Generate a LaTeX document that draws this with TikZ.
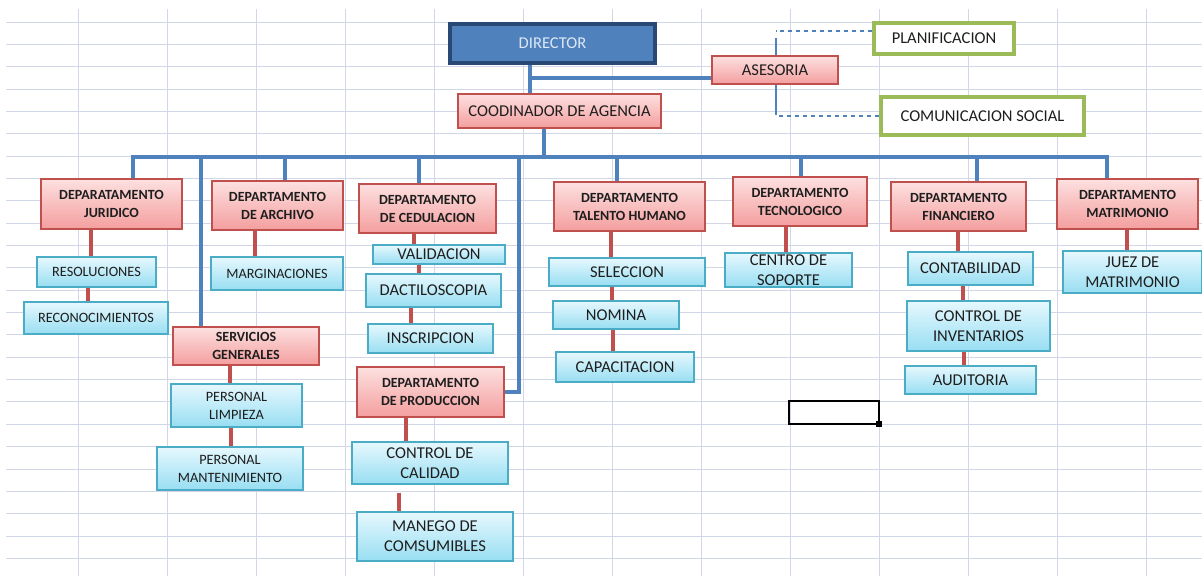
\documentclass[tikz,border=0pt]{standalone}
\usepackage{fontspec}
\setmainfont{Carlito}
\definecolor{gridgray}{RGB}{210,215,231}
\definecolor{dirfill}{RGB}{79,129,189}
\definecolor{diredge}{RGB}{40,72,118}
\definecolor{dirtext}{RGB}{222,232,245}
\definecolor{depttop}{RGB}{253,224,224}
\definecolor{deptbot}{RGB}{244,158,158}
\definecolor{deptedge}{RGB}{192,80,77}
\definecolor{unittop}{RGB}{230,248,254}
\definecolor{unitbot}{RGB}{152,222,242}
\definecolor{unitedge}{RGB}{75,172,198}
\definecolor{staffedge}{RGB}{155,187,89}
\definecolor{linkblue}{RGB}{79,129,189}
\definecolor{linkred}{RGB}{192,80,77}
\definecolor{inktext}{RGB}{30,30,30}
\pgfdeclarelayer{grid}
\pgfdeclarelayer{links}
\pgfsetlayers{grid,links,main}

\begin{document}
\begin{tikzpicture}[x=0.75pt, y=-0.75pt,
  span/.style args={#1/#2/#3/#4}{at={({(#1+#3)/2},{(#2+#4)/2})}, minimum width={(#3-#1)*0.75pt}, minimum height={(#4-#2)*0.75pt}},
  dirbox/.style={draw=diredge, line width=2.4pt, fill=dirfill, inner sep=0pt, text=dirtext, font=\fontsize{12.4}{15}\selectfont},
  deptbox/.style={draw=deptedge, line width=1.1pt, top color=depttop, bottom color=deptbot, inner sep=0pt, align=center, text=inktext, font=\fontsize{10.5}{13.5}\selectfont\bfseries},
  unitbox/.style={draw=unitedge, line width=1.1pt, top color=unittop, bottom color=unitbot, inner sep=0pt, align=center, text=inktext, font=\fontsize{12.4}{15}\selectfont},
  smallbox/.style={unitbox, font=\fontsize{10.7}{13.5}\selectfont},
  staffbox/.style={draw=staffedge, line width=2.6pt, fill=white, inner sep=0pt, text=inktext, font=\fontsize{12.4}{15}\selectfont},
  bluelink/.style={draw=linkblue, line width=3pt},
  redlink/.style={draw=linkred, line width=3pt},
  thinlink/.style={draw=linkblue, line width=0.8pt},
  gridline/.style={draw=gridgray, line width=0.7pt}]

  \useasboundingbox (0,0) rectangle (1202,576);

  % sheet grid
  \begin{pgfonlayer}{grid}
    \fill[white] (0,0) rectangle (1202,576);
    \foreach \k in {0,...,24}
      \draw[gridline] (6,{22+22.35*\k}) -- (1202,{22+22.35*\k});
    \foreach \k in {0,...,12}
      \draw[gridline] ({78+89*\k},9) -- ({78+89*\k},576);
  \end{pgfonlayer}

  % top
  \node[dirbox, span=450/24/655/63] (dir) {DIRECTOR};
  \node[deptbox, font=\fontsize{12.4}{15}\selectfont, span=712/56/838/84] (ase) {ASESORIA};
  \node[deptbox, font=\fontsize{12.4}{15}\selectfont, span=458/94/661/128] (coo) {COODINADOR DE AGENCIA};
  \node[staffbox, span=874/23/1014/54] (plan) {PLANIFICACION};
  \node[staffbox, span=881/97/1084/135] (com) {COMUNICACION SOCIAL};

  % departments
  \node[deptbox, span=41/179/182/229] (jur) {DEPARATAMENTO\\JURIDICO};
  \node[deptbox, span=212/181/343/230] (arc) {DEPARTAMENTO\\DE ARCHIVO};
  \node[deptbox, span=359/184/496/233] (ced) {DEPARTAMENTO\\DE CEDULACION};
  \node[deptbox, span=554/182/705/231] (tal) {DEPARTAMENTO\\TALENTO HUMANO};
  \node[deptbox, span=733/177/867/226] (tec) {DEPARTAMENTO\\TECNOLOGICO};
  \node[deptbox, span=891/182/1026/231] (fin) {DEPARTAMENTO\\FINANCIERO};
  \node[deptbox, span=1057/179/1198/229] (mat) {DEPARTAMENTO\\MATRIMONIO};
  \node[deptbox, span=173/327/319/365] (ser) {SERVICIOS\\GENERALES};
  \node[deptbox, span=357/367/504/417] (pro) {DEPARTAMENTO\\DE PRODUCCION};

  % units
  \node[smallbox, span=37/257/156/287] (res) {RESOLUCIONES};
  \node[smallbox, span=24/302/168/334] (rec) {RECONOCIMIENTOS};
  \node[smallbox, span=211/257/343/290] (mar) {MARGINACIONES};
  \node[unitbox, span=373/245/505/264] (val) {VALIDACION};
  \node[unitbox, span=366/274/501/307] (dac) {DACTILOSCOPIA};
  \node[unitbox, span=368/324/493/353] (ins) {INSCRIPCION};
  \node[unitbox, span=549/258/705/286] (sel) {SELECCION};
  \node[unitbox, span=553/301/679/329] (nom) {NOMINA};
  \node[unitbox, span=556/352/694/382] (cap) {CAPACITACION};
  \node[unitbox, span=725/253/852/287] (cen) {CENTRO DE\\SOPORTE};
  \node[unitbox, span=908/252/1033/285] (cont) {CONTABILIDAD};
  \node[unitbox, span=907/301/1050/351] (inv) {CONTROL DE\\INVENTARIOS};
  \node[unitbox, span=905/366/1036/394] (aud) {AUDITORIA};
  \node[unitbox, span=1063/251/1202/293] (juez) {JUEZ DE\\MATRIMONIO};
  \node[smallbox, span=171/384/302/427] (lim) {PERSONAL\\LIMPIEZA};
  \node[smallbox, span=157/447/303/490] (man) {PERSONAL\\MANTENIMIENTO};
  \node[unitbox, span=352/442/508/484] (cal) {CONTROL DE\\CALIDAD};
  \node[unitbox, span=357/512/513/561] (cons) {MANEGO DE\\COMSUMIBLES};

  % selected cell
  \draw[black, line width=1.6pt] (789,401) rectangle (879,424);
  \fill[black] (876,421) rectangle (882,427);

  \begin{pgfonlayer}{links}
    \draw[bluelink] (dir.south -| 530,0) -- (coo.north -| 530,0);
    \coordinate (ja) at (530,78);
    \draw[bluelink] (ja) -- (ase.west |- ja);
    \coordinate (bt) at (776,38);
    \coordinate (bb) at (776,115);
    \draw[thinlink, dashed] (plan.west |- 0,31) -- (bt |- 0,31);
    \draw[thinlink] (bt) -- (bb);
    \draw[thinlink, dashed] (com.west) -- (com.west -| bb);

    % bus to the departments
    \coordinate (busL) at (133,157);
    \coordinate (busR) at (1107,157);
    \draw[bluelink] (coo.south -| 544,0) -- (busL -| 544,0);
    \draw[bluelink, line cap=rect] (busL) -- (busR);
    \foreach \n/\x in {jur/133, ser/201, arc/285, ced/419, tal/617, tec/801, fin/977, mat/1107}
      \draw[bluelink] (busL -| \x,0) -- (\n.north -| \x,0);
    \draw[bluelink] (busL -| 519,0) |- (pro.east);

    % units under each department
    \foreach \a/\b/\x in {jur/res/91, res/rec/88, arc/mar/255, ced/val/414, val/dac/419,
        dac/ins/411, tal/sel/611, sel/nom/612, nom/cap/613, tec/cen/786, fin/cont/958,
        cont/inv/963, inv/aud/964, mat/juez/1127, ser/lim/230, lim/man/231, pro/cal/406}
      \draw[redlink] (\a.south -| \x,0) -- (\b.north -| \x,0);
    \draw[redlink, shorten <=6pt] (cal.south -| 399,0) -- (cons.north -| 399,0);
  \end{pgfonlayer}
\end{tikzpicture}
\end{document}
